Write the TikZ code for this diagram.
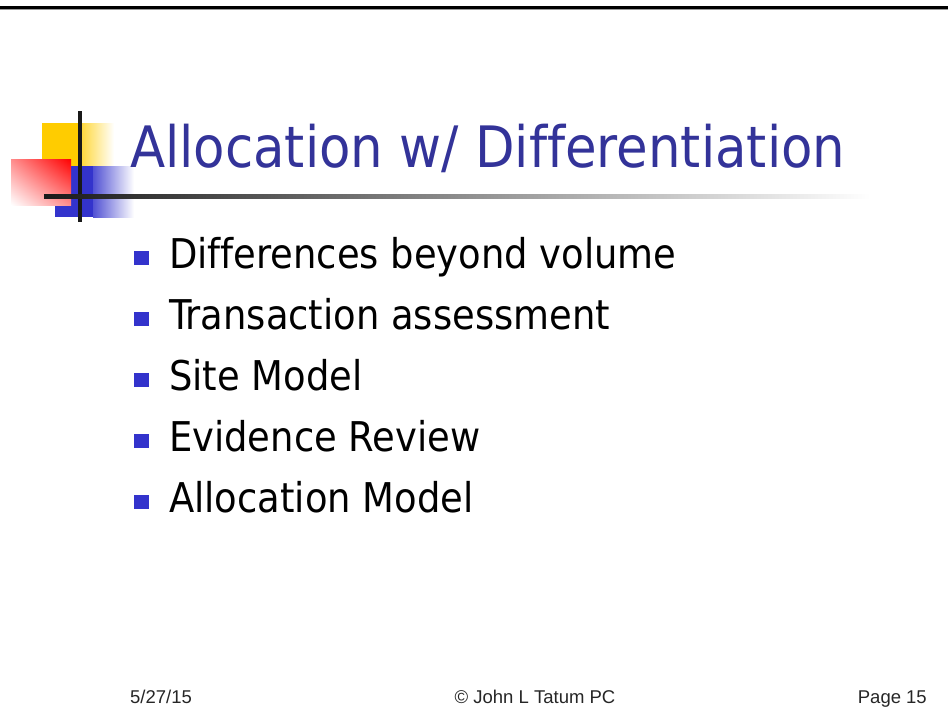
\documentclass[tikz,border=0pt]{standalone}
\usepackage{fontspec}
\setmainfont[Ligatures=NoCommon]{DejaVu Sans Condensed}
\newfontfamily\footfont{Liberation Sans}
\usetikzlibrary{positioning,shadings}
\definecolor{titleblue}{HTML}{333399}
\definecolor{logoyellow}{HTML}{FFCC00}
\definecolor{logoblue}{HTML}{3333CC}
\definecolor{logored}{HTML}{FF0000}
\definecolor{bulletblue}{HTML}{3333CC}
\tikzset{
  bodytext/.style={anchor=base west, inner sep=0pt, font=\fontsize{41}{44}\selectfont, text=black},
  bulletsq/.style={fill=bulletblue, draw=none},
  foottext/.style={anchor=base west, inner sep=0pt, font=\footfont\fontsize{18.5}{20}\selectfont, text=black!85},
}
\begin{document}
\begin{tikzpicture}[x=1pt,y=-1pt]
\useasboundingbox (0,0) rectangle (948,724);
\fill[white] (0,0) rectangle (948,724);
% top rule
\fill[black] (0,6) rectangle (948,8.5);
\fill[black!40] (0,8.5) rectangle (948,9.3);
% logo
\fill[logoyellow] (42,123) rectangle (82,167);
\shade[left color=logoyellow!75!white, right color=white] (82,123) rectangle (114,167);
\fill[logoblue] (55,166) rectangle (93,217);
\shade[left color=logoblue!85!white, right color=white] (93,166) rectangle (134,217);
\shade[upper right=logored, lower left=white, upper left=logored!45!white, lower right=logored!45!white] (11,159) rectangle (71,205);
\fill[black!90] (78,111) rectangle (82,222);
\shade[left color=black!90, middle color=black!45, right color=white] (44,194.5) rectangle (870,198);
% title
\node[anchor=base west, inner sep=0pt, font=\fontsize{57.1}{60}\selectfont, text=titleblue] (title) at (130,167) {Allocation w/ Differentiation};
% bullets
\foreach \i/\t in {0/Differences beyond volume, 1/Transaction assessment, 2/Site Model, 3/Evidence Review, 4/Allocation Model}{
  \fill[bulletsq] (134,{268+61*\i-17}) rectangle (149,{268+61*\i-3});
  \node[bodytext] (b\i) at (169,{268+61*\i}) {\t};
}
% footer
\node[foottext] (date) at (130,703) {5/27/15};
\node[foottext, anchor=base] (copy) at (535,703) {© John L Tatum PC};
\node[foottext, anchor=base east] (page) at (927,703) {Page 15};
\end{tikzpicture}
\end{document}
